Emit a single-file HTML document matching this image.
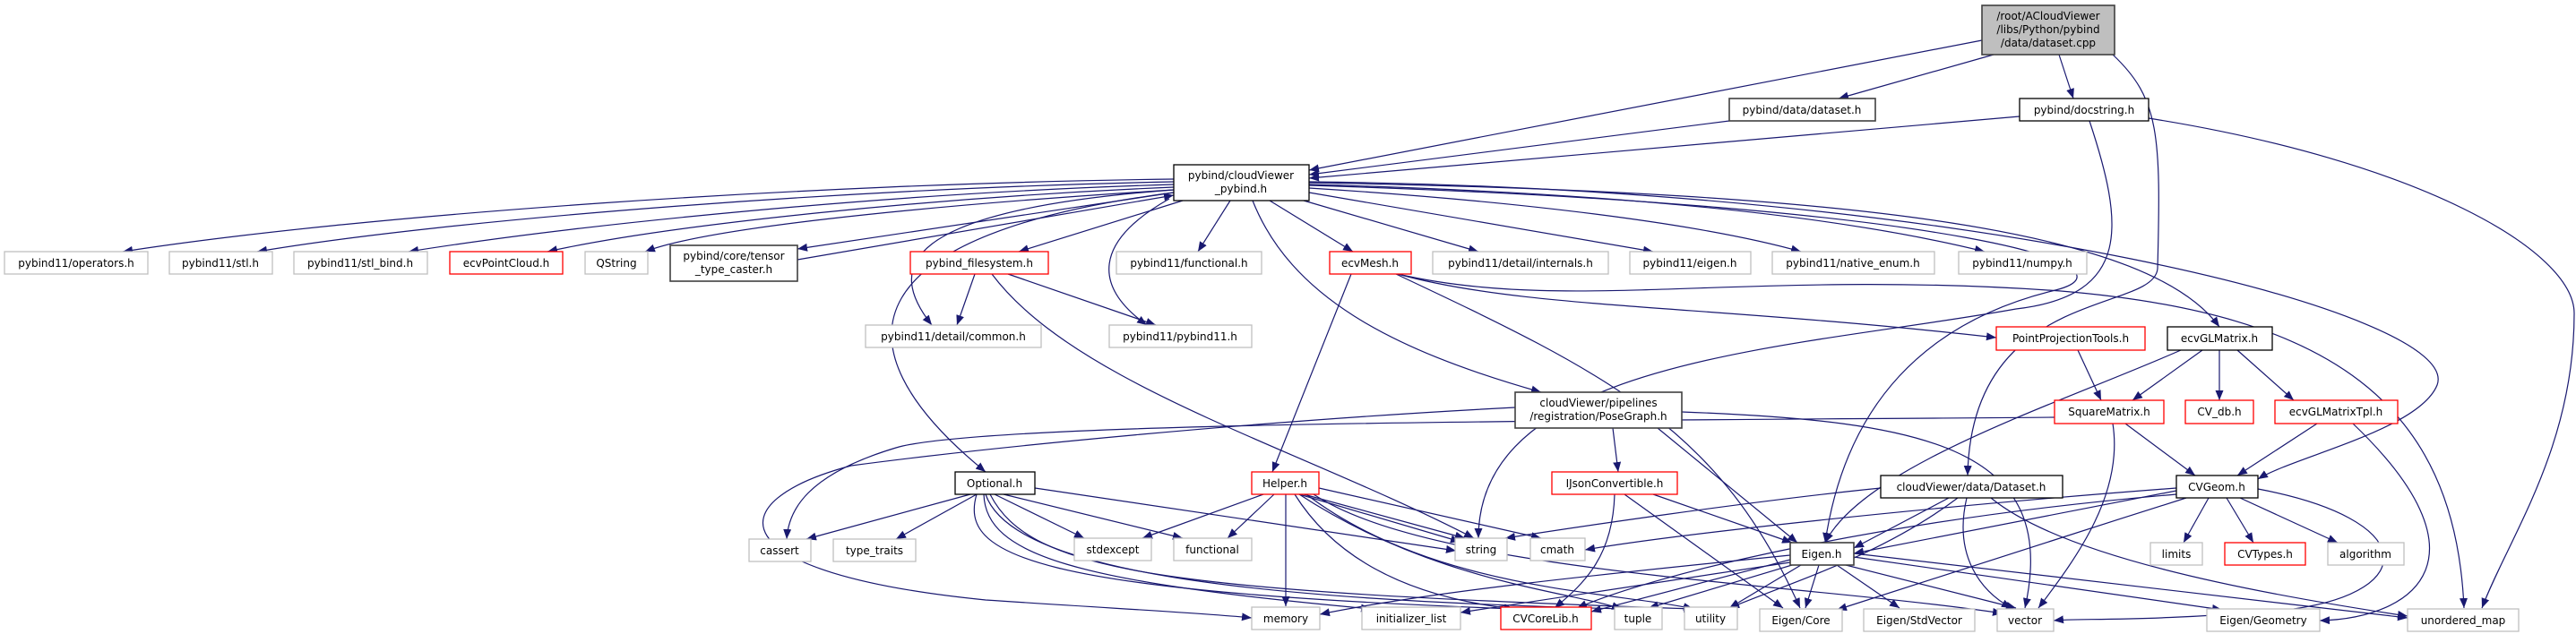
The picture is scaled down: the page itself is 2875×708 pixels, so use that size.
<!DOCTYPE html>
<html><head><meta charset="utf-8"><style>
html,body{margin:0;padding:0;background:#fff;}
svg{display:block;}
text{font-family:"DejaVu Sans","Liberation Sans",sans-serif;font-size:12px;fill:#000;}
.e{fill:none;stroke:#191970;stroke-width:1.2;}
.g{fill:#fff;stroke:#bfbfbf;stroke-width:1.3;}
.r{fill:#fff;stroke:#ff0000;stroke-width:1.3;}
.b{fill:#fff;stroke:#000;stroke-width:1.3;}
.d{fill:#fff;stroke:#404040;stroke-width:1.6;}
</style></head><body>
<svg width="2875" height="708" viewBox="0 0 2875 708" xmlns="http://www.w3.org/2000/svg">
<defs><marker id="a" markerUnits="userSpaceOnUse" markerWidth="12" markerHeight="10" refX="11" refY="4.5" orient="auto"><path d="M0,0 L11,4.5 L0,9 z" fill="#191970"/></marker></defs>
<g marker-end="url(#a)">
<path class="e" d="M2212,45 L1461,190"/>
<path class="e" d="M1930,135 L1461,195"/>
<path class="e" d="M2254,130 L1461,199"/>
<path class="e" d="M2225,61 L2052,110"/>
<path class="e" d="M2298,61 L2314,110"/>
<path class="e" d="M2358,61 C2410,110 2412,150 2408,300 C2404,350 2200,320 2196,531"/>
<path class="e" d="M2398,132 C2700,180 2873,280 2873,350 C2873,500 2800,600 2770,679"/>
<path class="e" d="M2332,135 C2370,250 2380,330 2250,345 C2000,390 1650,400 1650,601"/>
<path class="e" d="M1310,200 C900,205 400,240 137,281"/>
<path class="e" d="M1310,203 C950,210 500,245 287,281"/>
<path class="e" d="M1310,206 C1000,215 650,250 456,281"/>
<path class="e" d="M1310,209 C1050,220 750,250 611,281"/>
<path class="e" d="M1310,212 C1100,225 800,250 720,281"/>
<path class="e" d="M1310,215 L890,278"/>
<path class="e" d="M890,290 L1310,218"/>
<path class="e" d="M1320,224 L1137,281"/>
<path class="e" d="M1373,224 L1337,281"/>
<path class="e" d="M1417,224 L1510,281"/>
<path class="e" d="M1455,224 L1650,281"/>
<path class="e" d="M1461,215 L1845,281"/>
<path class="e" d="M1461,210 C1700,225 1900,250 2010,281"/>
<path class="e" d="M1461,206 C1800,215 2050,240 2215,281"/>
<path class="e" d="M1310,212 C1000,235 990,300 1040,363"/>
<path class="e" d="M1305,222 C1220,270 1220,320 1280,363"/>
<path class="e" d="M1310,215 C960,260 920,380 1100,527"/>
<path class="e" d="M1398,224 C1440,330 1550,390 1720,438"/>
<path class="e" d="M1461,204 C2100,215 2400,260 2477,365"/>
<path class="e" d="M1461,203 C2200,210 2750,350 2720,430 C2700,480 2560,510 2520,535"/>
<path class="e" d="M1461,207 C2200,230 2400,300 2290,325 C2150,360 2060,450 2037,606"/>
<path class="e" d="M1508,306 L1420,527"/>
<path class="e" d="M1558,306 C1800,420 1920,480 2009,679"/>
<path class="e" d="M1560,306 C1700,345 1900,340 2228,377"/>
<path class="e" d="M1560,306 C1750,350 1950,300 2300,325 C2600,350 2740,450 2750,679"/>
<path class="e" d="M1088,306 L1068,363"/>
<path class="e" d="M1125,306 L1290,363"/>
<path class="e" d="M1107,306 C1200,430 1450,500 1645,601"/>
<path class="e" d="M2319,391 L2345,447"/>
<path class="e" d="M2458,391 L2380,447"/>
<path class="e" d="M2477,391 L2477,447"/>
<path class="e" d="M2497,391 L2560,447"/>
<path class="e" d="M2434,391 C2300,450 2080,520 2037,606"/>
<path class="e" d="M2372,473 L2450,531"/>
<path class="e" d="M2358,473 C2370,550 2320,620 2275,679"/>
<path class="e" d="M2293,466 C1800,470 1100,470 1000,500 C900,530 880,570 878,602"/>
<path class="e" d="M1691,455 C1400,470 1100,500 950,520 C800,560 800,640 1100,670 C1250,680 1350,685 1397,690"/>
<path class="e" d="M1800,478 L1806,527"/>
<path class="e" d="M1850,478 L2006,606"/>
<path class="e" d="M1877,460 C2150,470 2300,500 2260,679"/>
<path class="e" d="M2586,473 L2497,531"/>
<path class="e" d="M2626,473 C2780,620 2700,690 2589,693"/>
<path class="e" d="M1802,552 C1800,620 1770,650 1735,679"/>
<path class="e" d="M1845,552 L2000,606"/>
<path class="e" d="M1813,552 L1990,679"/>
<path class="e" d="M2175,556 L2069,612"/>
<path class="e" d="M2099,545 C1950,560 1750,590 1680,601"/>
<path class="e" d="M2429,545 C2100,570 1850,600 1769,614"/>
<path class="e" d="M2195,556 C2180,620 2210,660 2245,679"/>
<path class="e" d="M2222,556 C2300,620 2500,660 2687,688"/>
<path class="e" d="M2185,556 C2100,620 2000,650 1930,679"/>
<path class="e" d="M2465,556 L2437,606"/>
<path class="e" d="M2485,556 L2515,606"/>
<path class="e" d="M2500,556 L2609,606"/>
<path class="e" d="M2429,548 L2069,618"/>
<path class="e" d="M2520,546 C2700,580 2700,660 2560,680 C2400,695 2320,690 2292,693"/>
<path class="e" d="M2440,556 C2300,600 2150,650 2050,681"/>
<path class="e" d="M2429,552 C2100,580 1850,640 1760,679"/>
<path class="e" d="M1998,625 L1776,683"/>
<path class="e" d="M2000,631 L1840,679"/>
<path class="e" d="M2010,631 L1930,679"/>
<path class="e" d="M2030,631 L2015,679"/>
<path class="e" d="M2050,631 L2120,679"/>
<path class="e" d="M2060,631 L2250,679"/>
<path class="e" d="M2069,622 L2480,681"/>
<path class="e" d="M2069,618 L2687,690"/>
<path class="e" d="M1998,620 C1800,640 1600,660 1473,686"/>
<path class="e" d="M1998,628 L1630,684"/>
<path class="e" d="M1083,552 L900,602"/>
<path class="e" d="M1090,552 L1000,602"/>
<path class="e" d="M1110,552 L1210,601"/>
<path class="e" d="M1120,552 L1320,601"/>
<path class="e" d="M1155,545 L1625,615"/>
<path class="e" d="M1090,552 C1070,620 1150,660 1690,680"/>
<path class="e" d="M1098,552 C1100,620 1200,650 1530,680"/>
<path class="e" d="M1105,552 C1150,640 1300,660 1890,680"/>
<path class="e" d="M1100,552 C1130,640 1400,670 1815,680"/>
<path class="e" d="M1410,552 L1275,601"/>
<path class="e" d="M1422,552 L1370,601"/>
<path class="e" d="M1435,552 L1435,677"/>
<path class="e" d="M1450,552 L1630,605"/>
<path class="e" d="M1455,552 L1635,601"/>
<path class="e" d="M1472,545 L1720,601"/>
<path class="e" d="M1445,552 C1500,640 1600,670 1690,680"/>
<path class="e" d="M1450,552 C1600,650 1750,660 1810,680"/>
<path class="e" d="M1458,552 C1600,660 1800,660 1890,680"/>
<path class="e" d="M1466,552 C1600,640 2000,650 2235,685"/>
</g>
<g text-anchor="middle">
<rect x="2212" y="6" width="148" height="55" fill="#bfbfbf" stroke="#404040" stroke-width="1.6"/>
<text x="2286" y="22">/root/ACloudViewer</text><text x="2286" y="37">/libs/Python/pybind</text><text x="2286" y="52">/data/dataset.cpp</text>
<rect class="d" x="1930" y="110" width="163" height="25"/><text x="2011" y="127">pybind/data/dataset.h</text>
<rect class="b" x="2254" y="110" width="144" height="25"/><text x="2326" y="127">pybind/docstring.h</text>
<rect class="b" x="1310" y="184" width="151" height="40"/><text x="1385" y="200">pybind/cloudViewer</text><text x="1385" y="215">_pybind.h</text>
<rect class="g" x="5" y="281" width="160" height="25"/><text x="85" y="298">pybind11/operators.h</text>
<rect class="g" x="189" y="281" width="115" height="25"/><text x="246" y="298">pybind11/stl.h</text>
<rect class="g" x="328" y="281" width="149" height="25"/><text x="402" y="298">pybind11/stl_bind.h</text>
<rect class="r" x="502" y="281" width="126" height="25"/><text x="565" y="298">ecvPointCloud.h</text>
<rect class="g" x="653" y="281" width="70" height="25"/><text x="688" y="298">QString</text>
<rect class="d" x="748" y="274" width="142" height="40"/><text x="819" y="290">pybind/core/tensor</text><text x="819" y="305">_type_caster.h</text>
<rect class="r" x="1016" y="281" width="154" height="25"/><text x="1093" y="298">pybind_filesystem.h</text>
<rect class="g" x="1246" y="281" width="162" height="25"/><text x="1327" y="298">pybind11/functional.h</text>
<rect class="r" x="1484" y="281" width="91" height="25"/><text x="1529" y="298">ecvMesh.h</text>
<rect class="g" x="1599" y="281" width="196" height="25"/><text x="1697" y="298">pybind11/detail/internals.h</text>
<rect class="g" x="1819" y="281" width="135" height="25"/><text x="1886" y="298">pybind11/eigen.h</text>
<rect class="g" x="1978" y="281" width="181" height="25"/><text x="2068" y="298">pybind11/native_enum.h</text>
<rect class="g" x="2186" y="281" width="143" height="25"/><text x="2257" y="298">pybind11/numpy.h</text>
<rect class="g" x="966" y="363" width="196" height="25"/><text x="1064" y="380">pybind11/detail/common.h</text>
<rect class="g" x="1238" y="363" width="159" height="25"/><text x="1317" y="380">pybind11/pybind11.h</text>
<rect class="r" x="2228" y="365" width="166" height="26"/><text x="2311" y="382">PointProjectionTools.h</text>
<rect class="b" x="2419" y="365" width="117" height="26"/><text x="2477" y="382">ecvGLMatrix.h</text>
<rect class="d" x="1691" y="438" width="186" height="40"/><text x="1784" y="454">cloudViewer/pipelines</text><text x="1784" y="469">/registration/PoseGraph.h</text>
<rect class="r" x="2293" y="447" width="122" height="26"/><text x="2354" y="464">SquareMatrix.h</text>
<rect class="r" x="2439" y="447" width="76" height="26"/><text x="2477" y="464">CV_db.h</text>
<rect class="r" x="2539" y="447" width="137" height="26"/><text x="2607" y="464">ecvGLMatrixTpl.h</text>
<rect class="b" x="1066" y="527" width="89" height="25"/><text x="1110" y="544">Optional.h</text>
<rect class="r" x="1397" y="527" width="75" height="25"/><text x="1434" y="544">Helper.h</text>
<rect class="r" x="1732" y="527" width="140" height="25"/><text x="1802" y="544">IJsonConvertible.h</text>
<rect class="b" x="2099" y="531" width="203" height="25"/><text x="2200" y="548">cloudViewer/data/Dataset.h</text>
<rect class="b" x="2429" y="531" width="91" height="25"/><text x="2474" y="548">CVGeom.h</text>
<rect class="g" x="836" y="602" width="69" height="25"/><text x="870" y="619">cassert</text>
<rect class="g" x="930" y="602" width="92" height="25"/><text x="976" y="619">type_traits</text>
<rect class="g" x="1199" y="601" width="86" height="25"/><text x="1242" y="618">stdexcept</text>
<rect class="g" x="1310" y="601" width="87" height="25"/><text x="1353" y="618">functional</text>
<rect class="g" x="1624" y="601" width="58" height="25"/><text x="1653" y="618">string</text>
<rect class="g" x="1708" y="601" width="61" height="25"/><text x="1738" y="618">cmath</text>
<rect class="d" x="1998" y="606" width="71" height="25"/><text x="2033" y="623">Eigen.h</text>
<rect class="g" x="2400" y="606" width="58" height="25"/><text x="2429" y="623">limits</text>
<rect class="r" x="2483" y="606" width="90" height="25"/><text x="2528" y="623">CVTypes.h</text>
<rect class="g" x="2598" y="606" width="85" height="25"/><text x="2640" y="623">algorithm</text>
<rect class="g" x="1397" y="678" width="76" height="25"/><text x="1435" y="695">memory</text>
<rect class="g" x="1520" y="678" width="110" height="25"/><text x="1575" y="695">initializer_list</text>
<rect class="r" x="1675" y="678" width="101" height="25"/><text x="1725" y="695">CVCoreLib.h</text>
<rect class="g" x="1802" y="678" width="53" height="25"/><text x="1828" y="695">tuple</text>
<rect class="g" x="1880" y="678" width="59" height="25"/><text x="1909" y="695">utility</text>
<rect class="g" x="1964" y="680" width="92" height="25"/><text x="2010" y="697">Eigen/Core</text>
<rect class="g" x="2080" y="680" width="124" height="25"/><text x="2142" y="697">Eigen/StdVector</text>
<rect class="g" x="2229" y="680" width="63" height="25"/><text x="2260" y="697">vector</text>
<rect class="g" x="2463" y="680" width="126" height="25"/><text x="2526" y="697">Eigen/Geometry</text>
<rect class="g" x="2687" y="680" width="124" height="25"/><text x="2749" y="697">unordered_map</text>
</g>
</svg>
</body></html>
